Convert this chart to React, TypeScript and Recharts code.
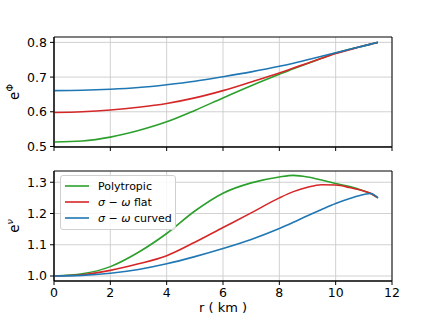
import React from "react";
import {
  LineChart,
  Line,
  XAxis,
  YAxis,
  CartesianGrid,
  ReferenceArea,
  Legend,
} from "recharts";

// radius in km
const radius = [0, 1, 2, 3, 4, 5, 6, 7, 8, 8.5, 9, 9.5, 10, 10.5, 11, 11.25, 11.5];

// e^Phi
const phiPoly = [0.513, 0.516, 0.527, 0.546, 0.571, 0.604, 0.64, 0.675, 0.708, 0.724, 0.739, 0.754, 0.769, 0.78, 0.79, 0.795, 0.8];
const phiFlat = [0.598, 0.6, 0.605, 0.613, 0.624, 0.64, 0.661, 0.686, 0.712, 0.726, 0.74, 0.754, 0.768, 0.779, 0.79, 0.795, 0.8];
const phiCurved = [0.661, 0.662, 0.665, 0.67, 0.678, 0.688, 0.701, 0.715, 0.731, 0.74, 0.75, 0.76, 0.77, 0.78, 0.79, 0.795, 0.8];

// e^nu
const nuPoly = [1.0, 1.007, 1.03, 1.076, 1.136, 1.208, 1.265, 1.298, 1.317, 1.322, 1.317, 1.307, 1.296, 1.286, 1.272, 1.264, 1.25];
const nuFlat = [1.0, 1.004, 1.018, 1.039, 1.065, 1.108, 1.155, 1.202, 1.25, 1.27, 1.284, 1.292, 1.291, 1.283, 1.272, 1.264, 1.25];
const nuCurved = [1.0, 1.002, 1.009, 1.021, 1.039, 1.062, 1.088, 1.117, 1.152, 1.172, 1.193, 1.213, 1.232, 1.248, 1.261, 1.264, 1.25];

const xTicks = [0, 2, 4, 6, 8, 10, 12];
const phiTicks = [0.5, 0.6, 0.7, 0.8];
const nuTicks = [1.0, 1.1, 1.2, 1.3];
const phiDomain = [0.4985, 0.8155];
const nuDomain = [0.984, 1.336];

const seriesNames = ["Polytropic", "σ − ω flat", "σ − ω curved"];
const colors = ["#2ca02c", "#d62728", "#1f77b4"];

const phiData = radius.map((r, i) => ({ r, poly: phiPoly[i], flat: phiFlat[i], curved: phiCurved[i] }));
const nuData = radius.map((r, i) => ({ r, poly: nuPoly[i], flat: nuFlat[i], curved: nuCurved[i] }));

const FONT = "DejaVu Sans, sans-serif";
const tickStyle = { fontSize: 12.5, fill: "#000", fontFamily: FONT };
const GRID = "#cccccc";

const YTitle = ({ viewBox, sup }: any) => {
  const y = (viewBox?.y ?? 0) + (viewBox?.height ?? 0) / 2;
  return (
    <text
      transform={`translate(19,${y}) rotate(-90)`}
      textAnchor="middle"
      fontSize={13.5}
      fontFamily={FONT}
      fill="#000"
    >
      e
      <tspan dy={-6} fontSize={9.5} fontStyle={sup === "ν" ? "italic" : "normal"}>
        {sup}
      </tspan>
    </text>
  );
};

const XTitle = ({ viewBox }: any) => {
  const x = (viewBox?.x ?? 0) + (viewBox?.width ?? 0) / 2;
  return (
    <text x={x} y={(viewBox?.y ?? 0) + 31} textAnchor="middle" fontSize={13} fontFamily={FONT} fill="#000">
      r ( km )
    </text>
  );
};

const fancyName = (name: string) =>
  name.split(/([σω])/).map((part, i) =>
    part === "σ" || part === "ω" ? <i key={i}>{part}</i> : <span key={i}>{part}</span>
  );

const LegendBox = ({ payload }: any) => {
  const items = [...(payload || [])]
    .filter((p: any) => seriesNames.includes(p.value))
    .sort((a: any, b: any) => seriesNames.indexOf(a.value) - seriesNames.indexOf(b.value));
  return (
    <div
      style={{
        border: "1px solid #d0d0d0",
        borderRadius: 3,
        background: "rgba(255,255,255,0.85)",
        padding: "2px 3px 3px 4px",
        fontFamily: FONT,
        fontSize: 11,
        color: "#000",
      }}
    >
      {items.map((p: any) => (
        <div key={p.value} style={{ display: "flex", alignItems: "center", height: 16, whiteSpace: "nowrap" }}>
          <svg width={24} height={4}>
            <line x1={0} y1={2} x2={24} y2={2} stroke={p.color} strokeWidth={1.6} />
          </svg>
          <span style={{ marginLeft: 9 }}>{fancyName(p.value)}</span>
        </div>
      ))}
    </div>
  );
};

const EmptyLegend = () => <div style={{ width: 1, height: 1 }} />;

const keys = ["poly", "flat", "curved"];

export default function App() {
  return (
    <div style={{ position: "absolute", left: 0, top: 0, width: 436, height: 316, background: "#fff" }}>
      <div style={{ position: "absolute", left: 0, top: 0 }}>
        <LineChart width={436} height={153} data={phiData} margin={{ top: 37, right: 44, bottom: 0, left: 0 }}>
          <CartesianGrid stroke={GRID} strokeWidth={0.9} verticalValues={xTicks} horizontalValues={phiTicks} />
          <XAxis
            dataKey="r"
            type="number"
            domain={[0, 12]}
            ticks={xTicks}
            interval={0}
            height={6}
            tickSize={4}
            tickFormatter={() => ""}
            axisLine={{ stroke: "#000" }}
            tickLine={{ stroke: "#000" }}
          />
          <YAxis
            type="number"
            domain={phiDomain}
            ticks={phiTicks}
            interval={0}
            width={54}
            tickSize={4}
            tickMargin={3}
            tick={tickStyle}
            tickFormatter={(v: number) => v.toFixed(1)}
            axisLine={{ stroke: "#000" }}
            tickLine={{ stroke: "#000" }}
            label={<YTitle sup="Φ" />}
          />
          {keys.map((k, i) => (
            <Line
              key={k}
              dataKey={k}
              name={seriesNames[i]}
              type="monotone"
              stroke={colors[i]}
              strokeWidth={1.6}
              dot={false}
              isAnimationActive={false}
            />
          ))}
          <ReferenceArea x1={0} x2={12} y1={phiDomain[0]} y2={phiDomain[1]} fill="none" stroke="#000" strokeWidth={1} ifOverflow="visible" />
          <Legend
            layout="vertical"
            align="center"
            verticalAlign="middle"
            content={<EmptyLegend />}
            wrapperStyle={{ position: "absolute", left: 0, top: 0, width: 1, height: 1 }}
          />
        </LineChart>
      </div>
      <div style={{ position: "absolute", left: 0, top: 153 }}>
        <LineChart width={436} height={163} data={nuData} margin={{ top: 18, right: 44, bottom: 0, left: 0 }}>
          <CartesianGrid stroke={GRID} strokeWidth={0.9} verticalValues={xTicks} horizontalValues={nuTicks} />
          <XAxis
            dataKey="r"
            type="number"
            domain={[0, 12]}
            ticks={xTicks}
            interval={0}
            height={35}
            tickSize={4}
            tickMargin={3}
            tick={tickStyle}
            axisLine={{ stroke: "#000" }}
            tickLine={{ stroke: "#000" }}
            label={<XTitle />}
          />
          <YAxis
            type="number"
            domain={nuDomain}
            ticks={nuTicks}
            interval={0}
            width={54}
            tickSize={4}
            tickMargin={3}
            tick={tickStyle}
            tickFormatter={(v: number) => v.toFixed(1)}
            axisLine={{ stroke: "#000" }}
            tickLine={{ stroke: "#000" }}
            label={<YTitle sup="ν" />}
          />
          {keys.map((k, i) => (
            <Line
              key={k}
              dataKey={k}
              name={seriesNames[i]}
              type="monotone"
              stroke={colors[i]}
              strokeWidth={1.6}
              dot={false}
              isAnimationActive={false}
            />
          ))}
          <ReferenceArea x1={0} x2={12} y1={nuDomain[0]} y2={nuDomain[1]} fill="none" stroke="#000" strokeWidth={1} ifOverflow="visible" />
          <Legend
            layout="vertical"
            align="center"
            verticalAlign="middle"
            content={<LegendBox />}
            wrapperStyle={{ position: "absolute", left: 60, top: 22, width: "auto", height: "auto" }}
          />
        </LineChart>
      </div>
    </div>
  );
}
